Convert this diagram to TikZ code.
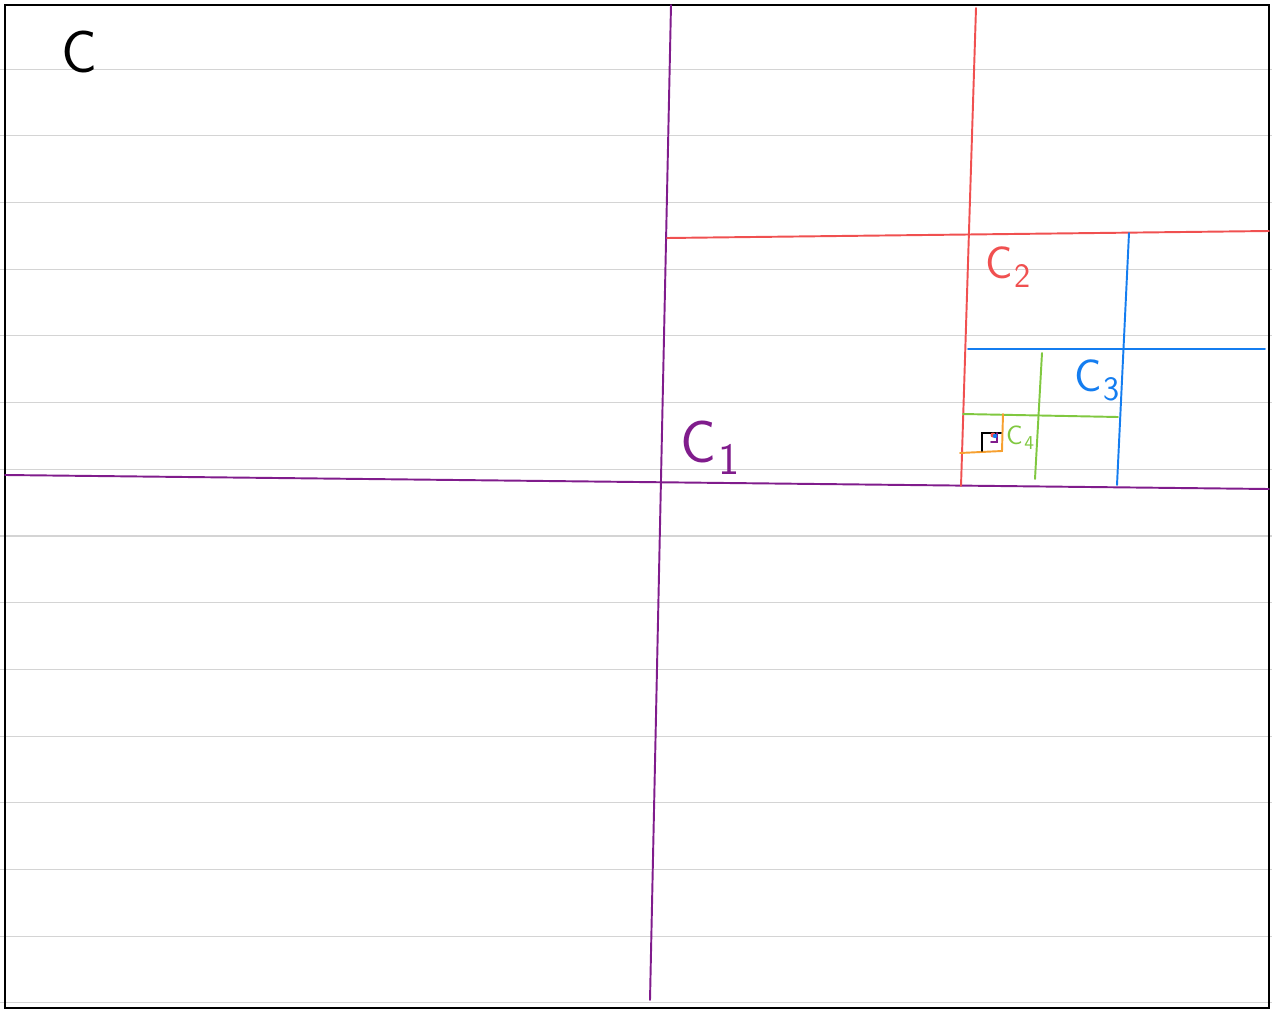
\documentclass[tikz,border=0pt]{standalone}
\usepackage{tikz}
\usepackage{xcolor}
\usetikzlibrary{positioning}

\definecolor{cpurple}{RGB}{128,28,140}
\definecolor{cred}{RGB}{240,80,80}
\definecolor{cblue}{RGB}{20,125,240}
\definecolor{cgreen}{RGB}{128,200,64}
\definecolor{corange}{RGB}{247,160,48}
\definecolor{crule}{RGB}{212,212,212}

\newcommand{\lo}[1]{\kern1pt\raisebox{-0.45ex}{\fontsize{0.75em}{0.8em}\selectfont #1}}

\begin{document}
\begin{tikzpicture}[
    x=0.02cm, y=-0.02cm,
    every node/.style={font=\sffamily, inner sep=0pt},
    rule/.style={crule, line width=0.6pt},
    frame/.style={draw=black, line width=1.5pt},
    cut/.style={line width=1.1pt, line cap=round},
    lbl/.style={font=\sffamily\fontsize{34}{36}\selectfont},
    slbl/.style={font=\sffamily\fontsize{26}{28}\selectfont},
    tlbl/.style={font=\sffamily\fontsize{15}{16}\selectfont}
]
\useasboundingbox (0,0) rectangle (1272,1011);
\fill[white] (0,0) rectangle (1272,1011);
% ruled paper
\foreach \i in {1,...,15}
  \draw[rule] (0,{2.4+66.7*\i}) -- (1272,{2.4+66.7*\i});
\draw[frame] (5,5) rectangle (1269,1008);
% first cut
\draw[cut, cpurple] (671,5) -- (650,1000);
\draw[cut, cpurple] (5,475) -- (1269,489);
% second cut
\draw[cut, cred] (976,8) -- (961,486);
\draw[cut, cred] (667,238) -- (1269,231);
% third cut
\draw[cut, cblue] (1129,233) -- (1117,485);
\draw[cut, cblue] (968,349) -- (1265,349);
% fourth cut
\draw[cut, cgreen] (1042,353) -- (1035,479);
\draw[cut, cgreen] (963,414) -- (1118,417);
% smaller ones
\draw[cut, corange] (1003,414) -- (1002,451) -- (960,453);
\draw[cut, black] (982,451) -- (982,433) -- (1001,433);
\draw[cut, cpurple] (997,433) -- (997,442) -- (991,442);
\fill[cred] (993,435) circle (2.5);
\fill[cblue] (995,436) circle (2.2);
% labels
\node[lbl] (c0) at (79,52) {C};
\node[lbl, cpurple] (c1) at (710,448) {C\lo{1}};
\node[slbl, cred] (c2) at (1008,267) {C\lo{2}};
\node[slbl, cblue] (c3) at (1097,380) {C\lo{3}};
\node[tlbl, cgreen] (c4) at (1020,438) {C\lo{4}};
\end{tikzpicture}
\end{document}
